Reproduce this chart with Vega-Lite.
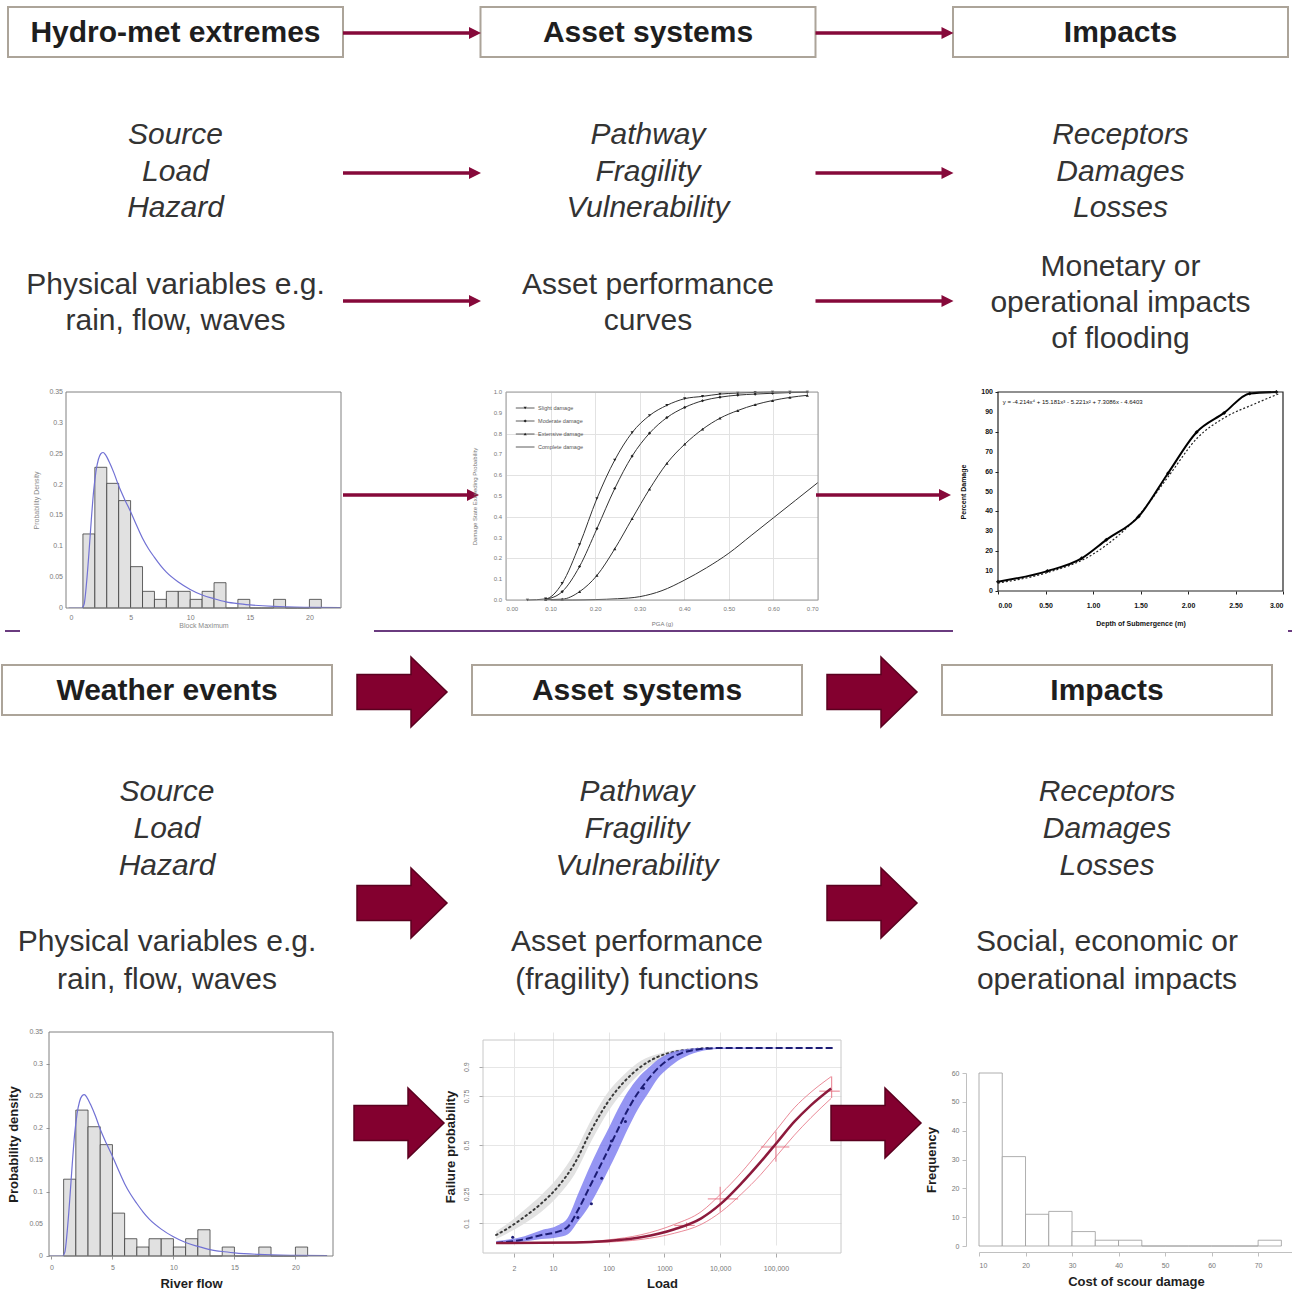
{
  "$schema": "https://vega.github.io/schema/vega-lite/v6.json",
  "padding": 0,
  "background": "white",
  "spacing": 0,
  "bounds": "flush",
  "config": {
    "view": {"stroke": null},
    "font": "Liberation Sans",
    "text": {"font": "Liberation Sans"},
    "axis": {"labelFont": "Liberation Sans", "titleFont": "Liberation Sans", "labelOverlap": false}
  },
  "datasets": {
    "top_cols": [
      {"col": 0, "header": "Hydro-met extremes", "italic": "Source\nLoad\nHazard", "desc": "Physical variables e.g.\nrain, flow, waves"},
      {"col": 1, "header": "Asset systems", "italic": "Pathway\nFragility\nVulnerability", "desc": "Asset performance\ncurves"},
      {"col": 2, "header": "Impacts", "italic": "Receptors\nDamages\nLosses", "desc": "Monetary or\noperational impacts\nof flooding"}
    ],
    "bottom_cols": [
      {"col": 0, "header": "Weather events", "italic": "Source\nLoad\nHazard", "desc": "Physical variables e.g.\nrain, flow, waves"},
      {"col": 1, "header": "Asset systems", "italic": "Pathway\nFragility\nVulnerability", "desc": "Asset performance\n(fragility) functions"},
      {"col": 2, "header": "Impacts", "italic": "Receptors\nDamages\nLosses", "desc": "Social, economic or\noperational impacts"}
    ],
    "links": [{"from": 0, "to": 1}, {"from": 1, "to": 2}],
    "block_links": [{"between": 0.5}, {"between": 1.5}],
    "divider": [{"start": -0.3447, "end": -0.3128}, {"start": 0.4404, "end": 1.6723}, {"start": 2.3851, "end": 2.3957}],
    "one": [{"id": 1}],
    "density_ticks": [{"v": 0}, {"v": 0.05}, {"v": 0.1}, {"v": 0.15}, {"v": 0.2}, {"v": 0.25}, {"v": 0.3}, {"v": 0.35}],
    "prob_ticks": [{"v": 0}, {"v": 0.1}, {"v": 0.2}, {"v": 0.3}, {"v": 0.4}, {"v": 0.5}, {"v": 0.6}, {"v": 0.7}, {"v": 0.8}, {"v": 0.9}, {"v": 1}],
    "damage_ticks": [{"v": 0}, {"v": 10}, {"v": 20}, {"v": 30}, {"v": 40}, {"v": 50}, {"v": 60}, {"v": 70}, {"v": 80}, {"v": 90}, {"v": 100}],
    "hist": [
      {"lo": 1, "hi": 2, "density": 0.12}, {"lo": 2, "hi": 3, "density": 0.228}, {"lo": 3, "hi": 4, "density": 0.202},
      {"lo": 4, "hi": 5, "density": 0.174}, {"lo": 5, "hi": 6, "density": 0.067}, {"lo": 6, "hi": 7, "density": 0.027},
      {"lo": 7, "hi": 8, "density": 0.014}, {"lo": 8, "hi": 9, "density": 0.027}, {"lo": 9, "hi": 10, "density": 0.027},
      {"lo": 10, "hi": 11, "density": 0.014}, {"lo": 11, "hi": 12, "density": 0.027}, {"lo": 12, "hi": 13, "density": 0.041},
      {"lo": 13, "hi": 14, "density": 0}, {"lo": 14, "hi": 15, "density": 0.014}, {"lo": 15, "hi": 16, "density": 0},
      {"lo": 16, "hi": 17, "density": 0}, {"lo": 17, "hi": 18, "density": 0.014}, {"lo": 18, "hi": 19, "density": 0},
      {"lo": 19, "hi": 20, "density": 0}, {"lo": 20, "hi": 21, "density": 0.014}
    ],
    "pdf": [
      {"x": -0.2, "y": 0}, {"x": 0.9, "y": 0}, {"x": 1.1, "y": 0.006}, {"x": 1.3, "y": 0.04}, {"x": 1.5, "y": 0.088},
      {"x": 1.7, "y": 0.142}, {"x": 1.9, "y": 0.19}, {"x": 2.1, "y": 0.222}, {"x": 2.3, "y": 0.241}, {"x": 2.5, "y": 0.25},
      {"x": 2.7, "y": 0.252}, {"x": 2.9, "y": 0.248}, {"x": 3.2, "y": 0.237}, {"x": 3.6, "y": 0.219}, {"x": 4.0, "y": 0.198},
      {"x": 4.5, "y": 0.176}, {"x": 5.0, "y": 0.156}, {"x": 5.5, "y": 0.134}, {"x": 6.0, "y": 0.113}, {"x": 6.5, "y": 0.096},
      {"x": 7.0, "y": 0.082}, {"x": 7.5, "y": 0.069}, {"x": 8.0, "y": 0.058}, {"x": 9.0, "y": 0.042}, {"x": 10.0, "y": 0.03},
      {"x": 11.0, "y": 0.021}, {"x": 12.0, "y": 0.015}, {"x": 13.0, "y": 0.01}, {"x": 14.0, "y": 0.007}, {"x": 15.0, "y": 0.005},
      {"x": 17.0, "y": 0.0025}, {"x": 20.0, "y": 0.001}, {"x": 22.6, "y": 0.0005}
    ],
    "fragility_legend": [{"state": "Slight damage"}, {"state": "Moderate damage"}, {"state": "Extensive damage"}, {"state": "Complete damage"}],
    "fragility": [
      {"state": "Slight damage", "pga": 0.048, "prob": 0}, {"state": "Slight damage", "pga": 0.089, "prob": 0.005},
      {"state": "Slight damage", "pga": 0.126, "prob": 0.08}, {"state": "Slight damage", "pga": 0.165, "prob": 0.266},
      {"state": "Slight damage", "pga": 0.204, "prob": 0.488}, {"state": "Slight damage", "pga": 0.244, "prob": 0.673},
      {"state": "Slight damage", "pga": 0.283, "prob": 0.805}, {"state": "Slight damage", "pga": 0.322, "prob": 0.887},
      {"state": "Slight damage", "pga": 0.361, "prob": 0.936}, {"state": "Slight damage", "pga": 0.401, "prob": 0.968},
      {"state": "Slight damage", "pga": 0.441, "prob": 0.979}, {"state": "Slight damage", "pga": 0.48, "prob": 0.99},
      {"state": "Slight damage", "pga": 0.52, "prob": 0.995}, {"state": "Slight damage", "pga": 0.559, "prob": 0.998},
      {"state": "Slight damage", "pga": 0.598, "prob": 1}, {"state": "Slight damage", "pga": 0.637, "prob": 1},
      {"state": "Slight damage", "pga": 0.676, "prob": 1},
      {"state": "Moderate damage", "pga": 0.089, "prob": 0.003}, {"state": "Moderate damage", "pga": 0.126, "prob": 0.04},
      {"state": "Moderate damage", "pga": 0.165, "prob": 0.161}, {"state": "Moderate damage", "pga": 0.204, "prob": 0.343},
      {"state": "Moderate damage", "pga": 0.244, "prob": 0.536}, {"state": "Moderate damage", "pga": 0.283, "prob": 0.692},
      {"state": "Moderate damage", "pga": 0.322, "prob": 0.802}, {"state": "Moderate damage", "pga": 0.361, "prob": 0.877},
      {"state": "Moderate damage", "pga": 0.401, "prob": 0.926}, {"state": "Moderate damage", "pga": 0.441, "prob": 0.958},
      {"state": "Moderate damage", "pga": 0.48, "prob": 0.975}, {"state": "Moderate damage", "pga": 0.52, "prob": 0.985},
      {"state": "Moderate damage", "pga": 0.559, "prob": 0.99}, {"state": "Moderate damage", "pga": 0.598, "prob": 0.994},
      {"state": "Moderate damage", "pga": 0.637, "prob": 0.997}, {"state": "Moderate damage", "pga": 0.676, "prob": 0.999},
      {"state": "Extensive damage", "pga": 0.089, "prob": 0.002}, {"state": "Extensive damage", "pga": 0.126, "prob": 0.004},
      {"state": "Extensive damage", "pga": 0.165, "prob": 0.04}, {"state": "Extensive damage", "pga": 0.204, "prob": 0.118},
      {"state": "Extensive damage", "pga": 0.244, "prob": 0.246}, {"state": "Extensive damage", "pga": 0.283, "prob": 0.391},
      {"state": "Extensive damage", "pga": 0.322, "prob": 0.533}, {"state": "Extensive damage", "pga": 0.361, "prob": 0.657},
      {"state": "Extensive damage", "pga": 0.401, "prob": 0.749}, {"state": "Extensive damage", "pga": 0.441, "prob": 0.821},
      {"state": "Extensive damage", "pga": 0.48, "prob": 0.874}, {"state": "Extensive damage", "pga": 0.52, "prob": 0.911},
      {"state": "Extensive damage", "pga": 0.559, "prob": 0.939}, {"state": "Extensive damage", "pga": 0.598, "prob": 0.959},
      {"state": "Extensive damage", "pga": 0.637, "prob": 0.974}, {"state": "Extensive damage", "pga": 0.676, "prob": 0.984},
      {"state": "Complete damage", "pga": 0.1, "prob": 0}, {"state": "Complete damage", "pga": 0.15, "prob": 0},
      {"state": "Complete damage", "pga": 0.2, "prob": 0.002}, {"state": "Complete damage", "pga": 0.25, "prob": 0.006},
      {"state": "Complete damage", "pga": 0.3, "prob": 0.016}, {"state": "Complete damage", "pga": 0.35, "prob": 0.045},
      {"state": "Complete damage", "pga": 0.4, "prob": 0.095}, {"state": "Complete damage", "pga": 0.45, "prob": 0.155},
      {"state": "Complete damage", "pga": 0.5, "prob": 0.225}, {"state": "Complete damage", "pga": 0.55, "prob": 0.31},
      {"state": "Complete damage", "pga": 0.6, "prob": 0.395}, {"state": "Complete damage", "pga": 0.65, "prob": 0.48},
      {"state": "Complete damage", "pga": 0.7, "prob": 0.565}
    ],
    "depth_damage": [
      {"series": "Observed", "depth": 0, "damage": 4.7}, {"series": "Observed", "depth": 0.52, "damage": 10},
      {"series": "Observed", "depth": 0.88, "damage": 16.4}, {"series": "Observed", "depth": 1.14, "damage": 25.7},
      {"series": "Observed", "depth": 1.48, "damage": 37.4}, {"series": "Observed", "depth": 1.79, "damage": 59.2},
      {"series": "Observed", "depth": 2.09, "damage": 79.8}, {"series": "Observed", "depth": 2.38, "damage": 89.5},
      {"series": "Observed", "depth": 2.65, "damage": 99.3}, {"series": "Observed", "depth": 2.93, "damage": 100},
      {"series": "Fitted", "depth": 0, "damage": 4}, {"series": "Fitted", "depth": 0.5, "damage": 9},
      {"series": "Fitted", "depth": 1.0, "damage": 18.5}, {"series": "Fitted", "depth": 1.5, "damage": 39},
      {"series": "Fitted", "depth": 1.8, "damage": 58}, {"series": "Fitted", "depth": 2.1, "damage": 77},
      {"series": "Fitted", "depth": 2.4, "damage": 87.5}, {"series": "Fitted", "depth": 2.7, "damage": 94},
      {"series": "Fitted", "depth": 2.95, "damage": 99}
    ],
    "equation": [{"label": "y = -4.214x\u2074 + 15.181x\u00b3 - 5.221x\u00b2 + 7.3086x - 4.6403"}],
    "load_fragility": [
      {"model": "Prior", "load": 0.96, "p": 0.041, "lo": 0.02, "hi": 0.06},
      {"model": "Prior", "load": 1.55, "p": 0.075, "lo": 0.05, "hi": 0.1},
      {"model": "Prior", "load": 3.1, "p": 0.134, "lo": 0.1, "hi": 0.17},
      {"model": "Prior", "load": 6.2, "p": 0.202, "lo": 0.16, "hi": 0.245},
      {"model": "Prior", "load": 12.3, "p": 0.287, "lo": 0.24, "hi": 0.335},
      {"model": "Prior", "load": 24.5, "p": 0.406, "lo": 0.35, "hi": 0.46},
      {"model": "Prior", "load": 49, "p": 0.577, "lo": 0.52, "hi": 0.63},
      {"model": "Prior", "load": 97.7, "p": 0.721, "lo": 0.67, "hi": 0.77},
      {"model": "Prior", "load": 190, "p": 0.823, "lo": 0.78, "hi": 0.86},
      {"model": "Prior", "load": 380, "p": 0.9, "lo": 0.87, "hi": 0.93},
      {"model": "Prior", "load": 759, "p": 0.95, "lo": 0.93, "hi": 0.965},
      {"model": "Prior", "load": 1514, "p": 0.976, "lo": 0.965, "hi": 0.985},
      {"model": "Prior", "load": 3020, "p": 0.988, "lo": 0.98, "hi": 0.993},
      {"model": "Prior", "load": 6310, "p": 0.995, "lo": 0.99, "hi": 0.998},
      {"model": "Posterior", "load": 0.96, "p": 0.0, "lo": 0.0, "hi": 0.01},
      {"model": "Posterior", "load": 3.1, "p": 0.019, "lo": 0.008, "hi": 0.035},
      {"model": "Posterior", "load": 6.2, "p": 0.041, "lo": 0.02, "hi": 0.065},
      {"model": "Posterior", "load": 12.3, "p": 0.058, "lo": 0.03, "hi": 0.09},
      {"model": "Posterior", "load": 18.6, "p": 0.083, "lo": 0.045, "hi": 0.13},
      {"model": "Posterior", "load": 28.2, "p": 0.168, "lo": 0.11, "hi": 0.25},
      {"model": "Posterior", "load": 42.7, "p": 0.27, "lo": 0.18, "hi": 0.37},
      {"model": "Posterior", "load": 64.6, "p": 0.372, "lo": 0.27, "hi": 0.48},
      {"model": "Posterior", "load": 97.7, "p": 0.474, "lo": 0.37, "hi": 0.58},
      {"model": "Posterior", "load": 145, "p": 0.577, "lo": 0.47, "hi": 0.68},
      {"model": "Posterior", "load": 219, "p": 0.679, "lo": 0.58, "hi": 0.77},
      {"model": "Posterior", "load": 331, "p": 0.764, "lo": 0.68, "hi": 0.84},
      {"model": "Posterior", "load": 501, "p": 0.832, "lo": 0.76, "hi": 0.89},
      {"model": "Posterior", "load": 759, "p": 0.891, "lo": 0.84, "hi": 0.935},
      {"model": "Posterior", "load": 1148, "p": 0.934, "lo": 0.89, "hi": 0.965},
      {"model": "Posterior", "load": 1995, "p": 0.968, "lo": 0.94, "hi": 0.985},
      {"model": "Posterior", "load": 3981, "p": 0.988, "lo": 0.975, "hi": 0.995},
      {"model": "Posterior", "load": 9120, "p": 0.995, "lo": 0.99, "hi": 0.998},
      {"model": "Posterior", "load": 1120000, "p": 0.995, "lo": 0.995, "hi": 0.995},
      {"model": "Scour", "load": 0.96, "p": 0.0, "lo": 0.0, "hi": 0.002},
      {"model": "Scour", "load": 24.5, "p": 0.002, "lo": 0.001, "hi": 0.004},
      {"model": "Scour", "load": 97.7, "p": 0.01, "lo": 0.005, "hi": 0.016},
      {"model": "Scour", "load": 380, "p": 0.029, "lo": 0.018, "hi": 0.042},
      {"model": "Scour", "load": 1514, "p": 0.07, "lo": 0.05, "hi": 0.095},
      {"model": "Scour", "load": 4571, "p": 0.126, "lo": 0.095, "hi": 0.16},
      {"model": "Scour", "load": 10471, "p": 0.202, "lo": 0.16, "hi": 0.253},
      {"model": "Scour", "load": 23988, "p": 0.304, "lo": 0.25, "hi": 0.36},
      {"model": "Scour", "load": 53703, "p": 0.415, "lo": 0.35, "hi": 0.48},
      {"model": "Scour", "load": 107152, "p": 0.517, "lo": 0.45, "hi": 0.585},
      {"model": "Scour", "load": 213796, "p": 0.619, "lo": 0.55, "hi": 0.69},
      {"model": "Scour", "load": 426580, "p": 0.704, "lo": 0.64, "hi": 0.77},
      {"model": "Scour", "load": 977237, "p": 0.789, "lo": 0.738, "hi": 0.849}
    ],
    "scour_ci": [
      {"load": 2500, "p": 0.09, "load_lo": 1500, "load_hi": 3500, "p_lo": 0.075, "p_hi": 0.105},
      {"load": 10000, "p": 0.225, "load_lo": 6000, "load_hi": 21000, "p_lo": 0.16, "p_hi": 0.287},
      {"load": 100000, "p": 0.49, "load_lo": 53700, "load_hi": 174000, "p_lo": 0.415, "p_hi": 0.568},
      {"load": 1000000, "p": 0.775, "load_lo": 600000, "load_hi": 1400000, "p_lo": 0.74, "p_hi": 0.85}
    ],
    "posterior_obs": [
      {"load": 1.9, "p": 0.03}, {"load": 28, "p": 0.13}, {"load": 49, "p": 0.2}, {"load": 75, "p": 0.33},
      {"load": 112, "p": 0.52}, {"load": 200, "p": 0.62}, {"load": 420, "p": 0.79}
    ],
    "scour_cost": [
      {"lo": 10, "hi": 15, "count": 60}, {"lo": 15, "hi": 20, "count": 31}, {"lo": 20, "hi": 25, "count": 11},
      {"lo": 25, "hi": 30, "count": 12}, {"lo": 30, "hi": 35, "count": 5}, {"lo": 35, "hi": 40, "count": 2},
      {"lo": 40, "hi": 45, "count": 2}, {"lo": 45, "hi": 50, "count": 0}, {"lo": 50, "hi": 55, "count": 0},
      {"lo": 55, "hi": 60, "count": 0}, {"lo": 60, "hi": 65, "count": 0}, {"lo": 65, "hi": 70, "count": 0},
      {"lo": 70, "hi": 75, "count": 2}
    ]
  },
  "vconcat": [
    {"width": 1292, "height": 7, "data": {"values": []}, "mark": {"type": "text"}},
    {
      "width": 1292, "height": 50,
      "layer": [
        {"data": {"name": "top_cols"}, "mark": {"type": "rect", "fill": "white", "stroke": "#aca499", "strokeWidth": 2, "xOffset": -167.5, "x2Offset": 167.5},
         "encoding": {"x": {"field": "col", "type": "quantitative", "scale": {"domain": [-0.369312, 2.365079], "nice": false, "zero": false}, "axis": null}, "x2": {"field": "col"}}},
        {"data": {"name": "top_cols"}, "mark": {"type": "text", "fontSize": 30, "fontWeight": "bold", "fill": "#1e1e1e", "dy": 1},
         "encoding": {"x": {"field": "col", "type": "quantitative", "scale": {"domain": [-0.369312, 2.365079], "nice": false, "zero": false}, "axis": null}, "text": {"field": "header"}}},
        {"data": {"name": "links"}, "mark": {"type": "rule", "stroke": "#86093a", "strokeWidth": 3.5, "xOffset": 167.5, "x2Offset": -178, "yOffset": 1},
         "encoding": {"x": {"field": "from", "type": "quantitative", "scale": {"domain": [-0.369312, 2.365079], "nice": false, "zero": false}, "axis": null}, "x2": {"field": "to"}}},
        {"data": {"name": "links"}, "mark": {"type": "point", "shape": "M1,0L-1,-1L-1,1Z", "filled": true, "fill": "#86093a", "opacity": 1, "size": 144, "xOffset": -173, "yOffset": 1},
         "encoding": {"x": {"field": "to", "type": "quantitative", "scale": {"domain": [-0.369312, 2.365079], "nice": false, "zero": false}, "axis": null}}}
      ]
    },
    {
      "width": 1292, "height": 229,
      "layer": [
        {"data": {"name": "top_cols"}, "mark": {"type": "text", "fontSize": 30, "fontStyle": "italic", "fill": "#333333", "lineBreak": "\n", "lineHeight": 36.5, "dy": -36.5},
         "encoding": {"x": {"field": "col", "type": "quantitative", "scale": {"domain": [-0.369312, 2.365079], "nice": false, "zero": false}, "axis": null}, "text": {"field": "italic"}}},
        {"data": {"name": "links"}, "mark": {"type": "rule", "stroke": "#86093a", "strokeWidth": 3.5, "xOffset": 167.5, "x2Offset": -178, "yOffset": 1.5},
         "encoding": {"x": {"field": "from", "type": "quantitative", "scale": {"domain": [-0.369312, 2.365079], "nice": false, "zero": false}, "axis": null}, "x2": {"field": "to"}}},
        {"data": {"name": "links"}, "mark": {"type": "point", "shape": "M1,0L-1,-1L-1,1Z", "filled": true, "fill": "#86093a", "opacity": 1, "size": 144, "xOffset": -173, "yOffset": 1.5},
         "encoding": {"x": {"field": "to", "type": "quantitative", "scale": {"domain": [-0.369312, 2.365079], "nice": false, "zero": false}, "axis": null}}}
      ]
    },
    {
      "width": 1292, "height": 106,
      "layer": [
        {"data": {"name": "top_cols"}, "transform": [{"filter": "datum.col < 2"}],
         "mark": {"type": "text", "fontSize": 30, "fill": "#333333", "lineBreak": "\n", "lineHeight": 36, "dy": -54.5},
         "encoding": {"x": {"field": "col", "type": "quantitative", "scale": {"domain": [-0.369312, 2.365079], "nice": false, "zero": false}, "axis": null}, "text": {"field": "desc"}}},
        {"data": {"name": "top_cols"}, "transform": [{"filter": "datum.col === 2"}],
         "mark": {"type": "text", "fontSize": 30, "fill": "#333333", "lineBreak": "\n", "lineHeight": 36, "dy": -72.5},
         "encoding": {"x": {"field": "col", "type": "quantitative", "scale": {"domain": [-0.369312, 2.365079], "nice": false, "zero": false}, "axis": null}, "text": {"field": "desc"}}},
        {"data": {"name": "links"}, "mark": {"type": "rule", "stroke": "#86093a", "strokeWidth": 3.5, "xOffset": 167.5, "x2Offset": -178, "yOffset": -38},
         "encoding": {"x": {"field": "from", "type": "quantitative", "scale": {"domain": [-0.369312, 2.365079], "nice": false, "zero": false}, "axis": null}, "x2": {"field": "to"}}},
        {"data": {"name": "links"}, "mark": {"type": "point", "shape": "M1,0L-1,-1L-1,1Z", "filled": true, "fill": "#86093a", "opacity": 1, "size": 144, "xOffset": -173, "yOffset": -38},
         "encoding": {"x": {"field": "to", "type": "quantitative", "scale": {"domain": [-0.369312, 2.365079], "nice": false, "zero": false}, "axis": null}}}
      ]
    },
    {
      "spacing": 0, "bounds": "flush",
      "hconcat": [
        {"width": 65, "height": 10, "data": {"values": []}, "mark": {"type": "text"}},
        {
          "width": 275, "height": 216,
          "layer": [
            {"data": {"name": "hist"}, "mark": {"type": "rect", "fill": "#e1e1e1", "stroke": "#3c3c3c", "strokeWidth": 0.8},
             "encoding": {
               "x": {"field": "lo", "type": "quantitative", "title": "Block Maximum", "scale": {"domain": [-0.42, 22.65], "range": [0, 275], "nice": false, "zero": false},
                     "axis": {"values": [0, 5, 10, 15, 20], "labelOverlap": false, "labelFontSize": 7, "labelColor": "#7a7a7a", "titleFontSize": 7, "titleColor": "#8a8a8a", "titleFontWeight": "normal", "tickSize": 0, "domain": false, "grid": false, "labelPadding": 5.5, "titlePadding": 1}},
               "x2": {"field": "hi"},
               "y": {"field": "density", "type": "quantitative", "title": "Probability Density", "scale": {"domain": [0, 0.35], "range": [216, 0], "nice": false, "zero": false},
                     "axis": {"values": [0, 0.05, 0.1, 0.15, 0.2, 0.25, 0.3, 0.35], "tickCount": 7, "labels": false, "titleFontSize": 7, "titleColor": "#8a8a8a", "titleFontWeight": "normal", "tickSize": 0, "domain": false, "grid": false, "titlePadding": 26}},
               "y2": {"datum": 0}}},
            {"data": {"name": "pdf"}, "mark": {"type": "line", "stroke": "#7171d4", "strokeWidth": 1.2, "interpolate": "monotone", "clip": true},
             "encoding": {"x": {"field": "x", "type": "quantitative", "title": "Block Maximum"}, "y": {"field": "y", "type": "quantitative", "title": "Probability Density"}}},
            {"data": {"name": "density_ticks"},
             "mark": {"type": "text", "align": "right", "baseline": "middle", "fontSize": 7, "fill": "#7a7a7a", "xOffset": -3},
             "encoding": {"x": {"datum": -0.42, "type": "quantitative"}, "y": {"field": "v", "type": "quantitative", "title": "Probability Density"}, "text": {"field": "v", "type": "quantitative", "format": ".2~f"}}},
            {"data": {"name": "one"},
             "mark": {"type": "rect", "fill": "white", "fillOpacity": 0, "stroke": "#808080", "strokeWidth": 1},
             "encoding": {"x": {"datum": -0.42, "type": "quantitative"}, "x2": {"datum": 22.65}, "y": {"datum": 0, "type": "quantitative"}, "y2": {"datum": 0.35}}}
          ]
        },
        {
          "width": 138, "height": 206, "data": {"name": "one"},
          "layer": [
            {"mark": {"type": "rule", "stroke": "#86093a", "strokeWidth": 3.5, "xOffset": 2, "x2Offset": -8},
             "encoding": {"x": {"datum": 0, "type": "quantitative", "scale": {"domain": [0, 1], "nice": false, "zero": false}, "axis": null}, "x2": {"datum": 1}}},
            {"mark": {"type": "point", "shape": "M1,0L-1,-1L-1,1Z", "filled": true, "fill": "#86093a", "opacity": 1, "size": 144, "xOffset": -6},
             "encoding": {"x": {"datum": 1, "type": "quantitative", "scale": {"domain": [0, 1], "nice": false, "zero": false}, "axis": null}}}
          ]
        },
        {"width": 27, "height": 10, "data": {"values": []}, "mark": {"type": "text"}},
        {
          "width": 312, "height": 208,
          "resolve": {"scale": {"y": "independent"}},
          "layer": [
            {
              "data": {"name": "fragility"},
              "layer": [
                {"mark": {"type": "line", "stroke": "#333333", "strokeWidth": 1, "interpolate": "monotone"},
                 "encoding": {
                   "x": {"field": "pga", "type": "quantitative", "title": "PGA (g)", "scale": {"domain": [0, 0.7], "range": [0, 312], "nice": false, "zero": false},
                         "axis": {"values": [0, 0.1, 0.2, 0.3, 0.4, 0.5, 0.6, 0.7], "labelOverlap": false, "format": ".2f", "labelFontSize": 6, "labelColor": "#777777", "titleFontSize": 6, "titleColor": "#777777", "titleFontWeight": "normal", "tickSize": 0, "domain": false, "grid": true, "gridColor": "#e2e2e2", "labelPadding": 5, "titlePadding": 9}},
                   "y": {"field": "prob", "type": "quantitative", "title": "Damage State Exceeding Probability", "scale": {"domain": [0, 1], "range": [208, 0], "nice": false, "zero": false},
                         "axis": {"values": [0, 0.1, 0.2, 0.3, 0.4, 0.5, 0.6, 0.7, 0.8, 0.9, 1], "tickCount": 10, "labels": false, "titleFontSize": 6, "titleColor": "#777777", "titleFontWeight": "normal", "tickSize": 0, "domain": false, "grid": true, "gridColor": "#e2e2e2", "titlePadding": 28}},
                   "detail": {"field": "state"}}},
                {"transform": [{"filter": "datum.state !== 'Complete damage'"}],
                 "mark": {"type": "point", "filled": true, "color": "#222222", "opacity": 1, "size": 10},
                 "encoding": {
                   "x": {"field": "pga", "type": "quantitative", "title": "PGA (g)"},
                   "y": {"field": "prob", "type": "quantitative", "title": "Damage State Exceeding Probability"},
                   "shape": {"field": "state", "type": "nominal", "legend": null,
                             "scale": {"domain": ["Slight damage", "Moderate damage", "Extensive damage", "Complete damage"], "range": ["triangle-down", "diamond", "triangle-up", "stroke"]}}}},
                {"data": {"name": "prob_ticks"},
                 "mark": {"type": "text", "align": "right", "baseline": "middle", "fontSize": 6, "fill": "#777777", "xOffset": -4},
                 "encoding": {"x": {"datum": 0, "type": "quantitative"}, "y": {"field": "v", "type": "quantitative", "title": "Damage State Exceeding Probability"}, "text": {"field": "v", "type": "quantitative", "format": ".1f"}}},
                {"data": {"name": "one"},
                 "mark": {"type": "rect", "fill": "white", "fillOpacity": 0, "stroke": "#9a9a9a", "strokeWidth": 1},
                 "encoding": {"x": {"datum": 0, "type": "quantitative"}, "x2": {"datum": 0.7}, "y": {"datum": 0, "type": "quantitative"}, "y2": {"datum": 1}}}
              ]
            },
            {
              "data": {"name": "fragility_legend"},
              "layer": [
                {"mark": {"type": "rule", "stroke": "#333333", "strokeWidth": 0.8},
                 "encoding": {"x": {"datum": 0.022, "type": "quantitative"}, "x2": {"datum": 0.064},
                              "y": {"field": "state", "type": "nominal", "scale": {"type": "point", "domain": ["Slight damage", "Moderate damage", "Extensive damage", "Complete damage"], "range": [16, 55], "padding": 0}, "axis": null}}},
                {"transform": [{"filter": "datum.state !== 'Complete damage'"}],
                 "mark": {"type": "point", "filled": true, "color": "#222222", "opacity": 1, "size": 10},
                 "encoding": {"x": {"datum": 0.043, "type": "quantitative"},
                              "y": {"field": "state", "type": "nominal"},
                              "shape": {"field": "state", "type": "nominal", "legend": null}}},
                {"mark": {"type": "text", "align": "left", "fontSize": 5.5, "fill": "#555555"},
                 "encoding": {"x": {"datum": 0.072, "type": "quantitative"},
                              "y": {"field": "state", "type": "nominal"},
                              "text": {"field": "state"}}}
              ]
            }
          ]
        },
        {
          "width": 133, "height": 206, "data": {"name": "one"},
          "layer": [
            {"mark": {"type": "rule", "stroke": "#86093a", "strokeWidth": 3.5, "xOffset": -2, "x2Offset": -8},
             "encoding": {"x": {"datum": 0, "type": "quantitative", "scale": {"domain": [0, 1], "nice": false, "zero": false}, "axis": null}, "x2": {"datum": 1}}},
            {"mark": {"type": "point", "shape": "M1,0L-1,-1L-1,1Z", "filled": true, "fill": "#86093a", "opacity": 1, "size": 144, "xOffset": -6},
             "encoding": {"x": {"datum": 1, "type": "quantitative", "scale": {"domain": [0, 1], "nice": false, "zero": false}, "axis": null}}}
          ]
        },
        {"width": 47, "height": 10, "data": {"values": []}, "mark": {"type": "text"}},
        {
          "width": 285, "height": 199,
          "layer": [
            {"data": {"name": "depth_damage"}, "transform": [{"filter": "datum.series === 'Fitted'"}],
             "mark": {"type": "line", "stroke": "#222222", "strokeWidth": 1.2, "strokeDash": [2, 2], "interpolate": "monotone"},
             "encoding": {
               "x": {"field": "depth", "type": "quantitative", "title": "Depth of Submergence (m)", "scale": {"domain": [0, 3], "range": [0, 285], "nice": false, "zero": false},
                     "axis": {"values": [0, 0.5, 1, 1.5, 2, 2.5, 3], "labelOverlap": false, "format": ".2f", "labelFontSize": 7, "labelColor": "#111111", "labelFontWeight": "bold", "titleFontSize": 7, "titleColor": "#111111", "titleFontWeight": "bold", "tickSize": 3, "tickColor": "#222222", "domain": false, "grid": false, "labelPadding": 7, "titlePadding": 11}},
               "y": {"field": "damage", "type": "quantitative", "title": "Percent Damage", "scale": {"domain": [0, 100], "range": [199, 0], "nice": false, "zero": false},
                     "axis": {"values": [0, 10, 20, 30, 40, 50, 60, 70, 80, 90, 100], "tickCount": 10, "labels": false, "titleFontSize": 7, "titleColor": "#111111", "titleFontWeight": "bold", "tickSize": 3, "tickColor": "#222222", "domain": false, "grid": false, "titlePadding": 28}}}},
            {"data": {"name": "depth_damage"}, "transform": [{"filter": "datum.series === 'Observed'"}],
             "mark": {"type": "line", "stroke": "#000000", "strokeWidth": 2, "interpolate": "monotone"},
             "encoding": {"x": {"field": "depth", "type": "quantitative", "title": "Depth of Submergence (m)"}, "y": {"field": "damage", "type": "quantitative", "title": "Percent Damage"}}},
            {"data": {"name": "depth_damage"}, "transform": [{"filter": "datum.series === 'Observed'"}],
             "mark": {"type": "point", "filled": true, "color": "#000000", "opacity": 1, "size": 16, "shape": "diamond"},
             "encoding": {"x": {"field": "depth", "type": "quantitative", "title": "Depth of Submergence (m)"}, "y": {"field": "damage", "type": "quantitative", "title": "Percent Damage"}}},
            {"data": {"name": "damage_ticks"},
             "mark": {"type": "text", "align": "right", "baseline": "middle", "fontSize": 7, "fontWeight": "bold", "fill": "#111111", "xOffset": -5},
             "encoding": {"x": {"datum": 0, "type": "quantitative"}, "y": {"field": "v", "type": "quantitative", "title": "Percent Damage"}, "text": {"field": "v", "type": "quantitative", "format": "d"}}},
            {"data": {"name": "equation"},
             "mark": {"type": "text", "align": "left", "fontSize": 6, "fill": "#111111"},
             "encoding": {"x": {"datum": 0.05, "type": "quantitative"}, "y": {"datum": 95, "type": "quantitative"}, "text": {"field": "label"}}},
            {"data": {"name": "one"},
             "mark": {"type": "rect", "fill": "white", "fillOpacity": 0, "stroke": "#222222", "strokeWidth": 1.2},
             "encoding": {"x": {"datum": 0, "type": "quantitative"}, "x2": {"datum": 3}, "y": {"datum": 0, "type": "quantitative"}, "y2": {"datum": 100}}}
          ]
        }
      ]
    },
    {"width": 1292, "height": 216, "data": {"values": []}, "mark": {"type": "text"}},
    {
      "width": 1292, "height": 57, "data": {"name": "divider"},
      "mark": {"type": "rule", "stroke": "#6a3b7f", "strokeWidth": 2, "yOffset": -5.5},
      "encoding": {"x": {"field": "start", "type": "quantitative", "scale": {"domain": [-0.353191, 2.395745], "nice": false, "zero": false}, "axis": null}, "x2": {"field": "end"}}
    },
    {
      "width": 1292, "height": 50,
      "layer": [
        {"data": {"name": "bottom_cols"}, "mark": {"type": "rect", "fill": "white", "stroke": "#aca499", "strokeWidth": 2, "xOffset": -165, "x2Offset": 165},
         "encoding": {"x": {"field": "col", "type": "quantitative", "scale": {"domain": [-0.353191, 2.395745], "nice": false, "zero": false}, "axis": null}, "x2": {"field": "col"}}},
        {"data": {"name": "bottom_cols"}, "mark": {"type": "text", "fontSize": 30, "fontWeight": "bold", "fill": "#1e1e1e", "dy": 1},
         "encoding": {"x": {"field": "col", "type": "quantitative", "scale": {"domain": [-0.353191, 2.395745], "nice": false, "zero": false}, "axis": null}, "text": {"field": "header"}}},
        {"data": {"name": "block_links"}, "mark": {"type": "point", "shape": "M-1,-0.389L0.2,-0.389L0.2,-0.778L1,0L0.2,0.778L0.2,0.389L-1,0.389Z", "size": 8100, "filled": true, "fill": "#83002f", "stroke": "#5a001f", "strokeWidth": 1.5, "opacity": 1, "yOffset": 2},
         "encoding": {"x": {"field": "between", "type": "quantitative", "scale": {"domain": [-0.353191, 2.395745], "nice": false, "zero": false}, "axis": null}}}
      ]
    },
    {
      "width": 1292, "height": 228,
      "layer": [
        {"data": {"name": "bottom_cols"}, "mark": {"type": "text", "fontSize": 30, "fontStyle": "italic", "fill": "#333333", "lineBreak": "\n", "lineHeight": 37, "dy": -37},
         "encoding": {"x": {"field": "col", "type": "quantitative", "scale": {"domain": [-0.353191, 2.395745], "nice": false, "zero": false}, "axis": null}, "text": {"field": "italic"}}},
        {"data": {"name": "block_links"}, "mark": {"type": "point", "shape": "M-1,-0.389L0.2,-0.389L0.2,-0.778L1,0L0.2,0.778L0.2,0.389L-1,0.389Z", "size": 8100, "filled": true, "fill": "#83002f", "stroke": "#5a001f", "strokeWidth": 1.5, "opacity": 1, "yOffset": 74},
         "encoding": {"x": {"field": "between", "type": "quantitative", "scale": {"domain": [-0.353191, 2.395745], "nice": false, "zero": false}, "axis": null}}}
      ]
    },
    {
      "width": 1292, "height": 89, "data": {"name": "bottom_cols"},
      "mark": {"type": "text", "fontSize": 30, "fill": "#333333", "lineBreak": "\n", "lineHeight": 38, "dy": -45.5},
      "encoding": {"x": {"field": "col", "type": "quantitative", "scale": {"domain": [-0.353191, 2.395745], "nice": false, "zero": false}, "axis": null}, "text": {"field": "desc"}}
    },
    {
      "spacing": 0, "bounds": "flush",
      "hconcat": [
        {"width": 48, "height": 10, "data": {"values": []}, "mark": {"type": "text"}},
        {
          "width": 284, "height": 224,
          "layer": [
            {"data": {"name": "hist"}, "mark": {"type": "rect", "fill": "#e1e1e1", "stroke": "#3c3c3c", "strokeWidth": 0.8},
             "encoding": {
               "x": {"field": "lo", "type": "quantitative", "title": "River flow", "scale": {"domain": [-0.2, 23.08], "range": [0, 284], "nice": false, "zero": false},
                     "axis": {"values": [0, 5, 10, 15, 20], "labelOverlap": false, "labelFontSize": 7, "labelColor": "#7a7a7a", "titleFontSize": 13, "titleColor": "#1e1e1e", "titleFontWeight": "bold", "tickSize": 3, "tickColor": "#999999", "domain": false, "grid": false, "labelPadding": 4, "titlePadding": 7}},
               "x2": {"field": "hi"},
               "y": {"field": "density", "type": "quantitative", "title": "Probability density", "scale": {"domain": [0, 0.35], "range": [224, 0], "nice": false, "zero": false},
                     "axis": {"values": [0, 0.05, 0.1, 0.15, 0.2, 0.25, 0.3, 0.35], "tickCount": 7, "labels": false, "titleFontSize": 13, "titleColor": "#1e1e1e", "titleFontWeight": "bold", "tickSize": 3, "tickColor": "#999999", "domain": false, "grid": false, "titlePadding": 25}},
               "y2": {"datum": 0}}},
            {"data": {"name": "pdf"}, "mark": {"type": "line", "stroke": "#7171d4", "strokeWidth": 1.2, "interpolate": "monotone", "clip": true},
             "encoding": {"x": {"field": "x", "type": "quantitative", "title": "River flow"}, "y": {"field": "y", "type": "quantitative", "title": "Probability density"}}},
            {"data": {"name": "density_ticks"},
             "mark": {"type": "text", "align": "right", "baseline": "middle", "fontSize": 7, "fill": "#7a7a7a", "xOffset": -6},
             "encoding": {"x": {"datum": -0.2, "type": "quantitative"}, "y": {"field": "v", "type": "quantitative", "title": "Probability density"}, "text": {"field": "v", "type": "quantitative", "format": ".2~f"}}},
            {"data": {"name": "one"},
             "mark": {"type": "rect", "fill": "white", "fillOpacity": 0, "stroke": "#808080", "strokeWidth": 1},
             "encoding": {"x": {"datum": -0.2, "type": "quantitative"}, "x2": {"datum": 23.08}, "y": {"datum": 0, "type": "quantitative"}, "y2": {"datum": 0.35}}}
          ]
        },
        {"width": 132, "height": 182, "data": {"name": "one"},
         "mark": {"type": "point", "shape": "M-1,-0.389L0.2,-0.389L0.2,-0.778L1,0L0.2,0.778L0.2,0.389L-1,0.389Z", "size": 8100, "filled": true, "fill": "#83002f", "stroke": "#5a001f", "strokeWidth": 1.5, "opacity": 1},
         "encoding": {}},
        {"width": 18, "height": 10, "data": {"values": []}, "mark": {"type": "text"}},
        {
          "width": 358, "height": 221,
          "data": {"name": "load_fragility"},
          "layer": [
            {"transform": [{"filter": "datum.model === 'Prior'"}],
             "mark": {"type": "area", "fill": "#e2e2e2", "opacity": 1, "interpolate": "monotone"},
             "encoding": {
               "x": {"field": "load", "type": "quantitative", "title": "Load", "scale": {"type": "log", "domain": [0.557, 1470000], "nice": false},
                     "axis": {"values": [2, 10, 100, 1000, 10000, 100000], "labelOverlap": false, "labelExpr": "datum.value >= 10000 ? format(datum.value, ',') : format(datum.value, 'd')", "labelFontSize": 7, "labelColor": "#777777", "titleFontSize": 13, "titleColor": "#1e1e1e", "titleFontWeight": "bold", "tickSize": 4, "tickColor": "#aaaaaa", "domain": false, "grid": true, "gridColor": "#e6e6e6", "labelPadding": 7, "titlePadding": 6}},
               "y": {"field": "lo", "type": "quantitative", "title": "Failure probability", "scale": {"domain": [-0.051, 1.036], "range": [221, 8], "nice": false, "zero": false},
                     "axis": {"values": [0.1, 0.25, 0.5, 0.75, 0.9], "labelOverlap": false, "format": ".2~f", "labelAngle": -90, "labelFontSize": 7, "labelColor": "#777777", "titleFontSize": 13, "titleColor": "#1e1e1e", "titleFontWeight": "bold", "tickSize": 4, "tickColor": "#aaaaaa", "domain": false, "grid": true, "gridColor": "#e6e6e6", "labelPadding": 10, "titlePadding": 5}},
               "y2": {"field": "hi"}}},
            {"data": {"name": "one"},
             "mark": {"type": "rect", "fill": "white", "fillOpacity": 0, "stroke": "#c8c8c8", "strokeWidth": 1},
             "encoding": {"x": {"datum": 0.557, "type": "quantitative"}, "x2": {"datum": 1470000}, "y": {"datum": -0.051, "type": "quantitative"}, "y2": {"datum": 1.036}}},
            {"transform": [{"filter": "datum.model === 'Prior'"}],
             "mark": {"type": "line", "stroke": "#3a3a3a", "strokeWidth": 2, "strokeDash": [1.5, 3.5], "strokeCap": "round", "interpolate": "monotone"},
             "encoding": {"x": {"field": "load", "type": "quantitative", "title": "Load"}, "y": {"field": "p", "type": "quantitative", "title": "Failure probability"}}},
            {"transform": [{"filter": "datum.model === 'Posterior'"}],
             "mark": {"type": "area", "fill": "#7b7bf0", "opacity": 0.8, "interpolate": "monotone"},
             "encoding": {"x": {"field": "load", "type": "quantitative", "title": "Load"}, "y": {"field": "lo", "type": "quantitative", "title": "Failure probability"}, "y2": {"field": "hi"}}},
            {"transform": [{"filter": "datum.model === 'Posterior'"}],
             "mark": {"type": "line", "stroke": "#1c1c74", "strokeWidth": 2, "strokeDash": [7, 3], "interpolate": "monotone"},
             "encoding": {"x": {"field": "load", "type": "quantitative", "title": "Load"}, "y": {"field": "p", "type": "quantitative", "title": "Failure probability"}}},
            {"data": {"name": "posterior_obs"},
             "mark": {"type": "point", "filled": true, "color": "#1c1c74", "opacity": 1, "size": 9},
             "encoding": {"x": {"field": "load", "type": "quantitative", "title": "Load"}, "y": {"field": "p", "type": "quantitative", "title": "Failure probability"}}},
            {"transform": [{"filter": "datum.model === 'Scour'"}],
             "mark": {"type": "line", "stroke": "#e46c7e", "strokeWidth": 0.8, "interpolate": "monotone"},
             "encoding": {"x": {"field": "load", "type": "quantitative", "title": "Load"}, "y": {"field": "lo", "type": "quantitative", "title": "Failure probability"}}},
            {"transform": [{"filter": "datum.model === 'Scour'"}],
             "mark": {"type": "line", "stroke": "#e46c7e", "strokeWidth": 0.8, "interpolate": "monotone"},
             "encoding": {"x": {"field": "load", "type": "quantitative", "title": "Load"}, "y": {"field": "hi", "type": "quantitative", "title": "Failure probability"}}},
            {"data": {"name": "scour_ci"},
             "mark": {"type": "rule", "stroke": "#e46c7e", "strokeWidth": 0.9},
             "encoding": {"x": {"field": "load_lo", "type": "quantitative", "title": "Load"}, "x2": {"field": "load_hi"}, "y": {"field": "p", "type": "quantitative", "title": "Failure probability"}}},
            {"data": {"name": "scour_ci"},
             "mark": {"type": "rule", "stroke": "#e46c7e", "strokeWidth": 0.9},
             "encoding": {"x": {"field": "load", "type": "quantitative", "title": "Load"}, "y": {"field": "p_lo", "type": "quantitative", "title": "Failure probability"}, "y2": {"field": "p_hi"}}},
            {"transform": [{"filter": "datum.model === 'Scour'"}],
             "mark": {"type": "line", "stroke": "#8c1a3c", "strokeWidth": 2.5, "interpolate": "monotone"},
             "encoding": {"x": {"field": "load", "type": "quantitative", "title": "Load"}, "y": {"field": "p", "type": "quantitative", "title": "Failure probability"}}}
          ]
        },
        {"width": 70, "height": 182, "data": {"name": "one"},
         "mark": {"type": "point", "shape": "M-1,-0.389L0.2,-0.389L0.2,-0.778L1,0L0.2,0.778L0.2,0.389L-1,0.389Z", "size": 8100, "filled": true, "fill": "#83002f", "stroke": "#5a001f", "strokeWidth": 1.5, "opacity": 1},
         "encoding": {}},
        {"width": 68, "height": 10, "data": {"values": []}, "mark": {"type": "text"}},
        {
          "width": 314, "height": 214,
          "data": {"name": "scour_cost"},
          "mark": {"type": "rect", "fill": "white", "stroke": "#9a9a9a", "strokeWidth": 0.8},
          "encoding": {
            "x": {"field": "lo", "type": "quantitative", "title": "Cost of scour damage", "scale": {"domain": [10, 77.5], "nice": false, "zero": false},
                  "axis": {"values": [10, 20, 30, 40, 50, 60, 70], "labelOverlap": false, "offset": 6, "domainColor": "#c0c0c0", "tickColor": "#c0c0c0", "tickSize": 4, "labelFontSize": 7, "labelColor": "#777777", "labelPadding": 5, "titleFontSize": 13, "titleFontWeight": "bold", "titleColor": "#1e1e1e", "titlePadding": 7, "grid": false}},
            "x2": {"field": "hi"},
            "y": {"field": "count", "type": "quantitative", "title": "Frequency", "scale": {"domain": [0, 60], "range": [214, 41], "nice": false, "zero": false},
                  "axis": {"values": [0, 10, 20, 30, 40, 50, 60], "labelOverlap": false, "offset": 13, "domainColor": "#c0c0c0", "tickColor": "#c0c0c0", "tickSize": 4, "labelFontSize": 7, "labelColor": "#777777", "labelPadding": 3, "titleFontSize": 13, "titleFontWeight": "bold", "titleColor": "#1e1e1e", "titlePadding": 13, "grid": false}},
            "y2": {"datum": 0}}
        }
      ]
    }
  ]
}
